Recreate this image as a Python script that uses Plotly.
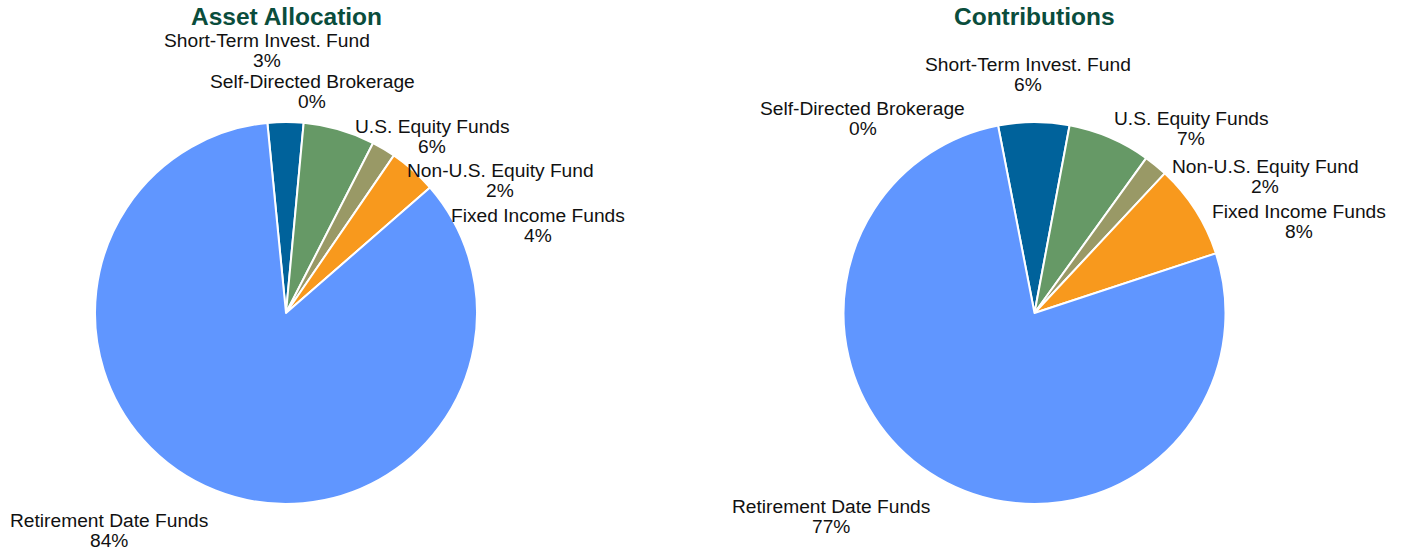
import math
import plotly.graph_objects as go

# Fund categories, clockwise from just left of 12 o'clock
categories = [
    "Self-Directed Brokerage",
    "Short-Term Invest. Fund",
    "U.S. Equity Funds",
    "Non-U.S. Equity Fund",
    "Fixed Income Funds",
    "Retirement Date Funds",
]
asset_allocation = [0, 3, 6, 2, 4, 84]
contributions = [0, 6, 7, 2, 8, 77]
titles = ["Asset Allocation", "Contributions"]

slice_colors = ["#9a9a9a", "#00629b", "#669966", "#999966", "#f8991d", "#6096ff"]
TITLE_COLOR = "#0a4d3c"
FONT = "Liberation Sans, Arial, Helvetica, sans-serif"
LABEL_SIZE = 19.2
LINE_STEP = 20
TITLE_SIZE = 24.5

W, H = 1405, 550
R = 191
pies = [
    dict(values=asset_allocation, title=titles[0], center=(286, 313), rotation=-5.6,
         # small label shifts that keep neighbouring labels apart
         nudge=[(47, 5), (-18, -34.5), (10, 4), (13, 27), (25, 48), (0, -1)]),
    dict(values=contributions, title=titles[1], center=(1034.5, 313), rotation=-11,
         nudge=[(-29, -9.5), (-6, -10.5), (-3.5, -12.5), (3.5, 4.5), (0, 0), (2.5, 0)]),
]

# Arial / Liberation Sans advance widths (per 1000 em) for label text
_ADV = {
    " ": 278, "%": 889, "-": 333, ".": 278,
    "A": 667, "B": 667, "D": 722, "E": 667, "F": 611, "I": 278, "N": 722,
    "R": 722, "S": 667, "T": 611, "U": 722,
    "a": 556, "c": 500, "d": 556, "e": 556, "f": 278, "g": 556, "h": 556,
    "i": 222, "k": 500, "l": 222, "m": 833, "n": 556, "o": 556, "q": 556,
    "r": 333, "s": 500, "t": 278, "u": 556, "v": 500, "x": 500, "y": 500,
}


def text_width(s, size):
    return sum(_ADV.get(ch, 556) for ch in s) * size / 1000.0


def domain_for(cx, cy):
    return dict(x=[(cx - R) / W, (cx + R) / W],
                y=[(H - cy - R) / H, (H - cy + R) / H])


fig = go.Figure()
annotations = []

for p in pies:
    vals = p["values"]
    cx, cy = p["center"]
    fig.add_trace(go.Pie(
        labels=categories,
        values=vals,
        sort=False,
        direction="clockwise",
        rotation=p["rotation"],
        marker=dict(colors=slice_colors, line=dict(color="white", width=2)),
        textinfo="none",
        hovertemplate="%{label}: %{value}%<extra></extra>",
        domain=domain_for(cx, cy),
        showlegend=False,
    ))

    # outside labels: anchored just beyond the rim at each slice's mid-angle
    total = float(sum(vals))
    start = p["rotation"]
    ra = R + 20
    for name, v, (ndx, ndy) in zip(categories, vals, p["nudge"]):
        span = v / total * 360.0
        mid = math.radians(start + span / 2)
        start += span
        s, c = math.sin(mid), math.cos(mid)
        ax, ay = cx + ra * s, cy - ra * c
        w = text_width(name, LABEL_SIZE)
        if s > 0.15:          # right-hand labels hang to the right of the anchor
            lx, y1 = ax + w / 2, ay + 12
        elif s < -0.15:       # left-hand labels hang to the left
            lx, y1 = ax - w / 2, ay + 12
        else:                 # labels near the top sit above the anchor
            lx, y1 = ax, ay - 7 - LINE_STEP
        lx += ndx
        y1 += ndy
        for i, line in enumerate([name, f"{v:g}%"]):
            annotations.append(dict(
                text=line, x=lx / W, y=1 - (y1 + i * LINE_STEP) / H,
                xref="paper", yref="paper", xanchor="center", yanchor="middle",
                showarrow=False,
                font=dict(family=FONT, size=LABEL_SIZE, color="#111111"),
            ))

    annotations.append(dict(
        text=f"<b>{p['title']}</b>", x=cx / W, y=1 - 17 / H,
        xref="paper", yref="paper", xanchor="center", yanchor="middle",
        showarrow=False,
        font=dict(family=FONT, size=TITLE_SIZE, color=TITLE_COLOR),
    ))

fig.update_layout(
    width=W, height=H,
    margin=dict(l=0, r=0, t=0, b=0),
    paper_bgcolor="white", plot_bgcolor="white",
    annotations=annotations,
)

fig.write_html("out.html")
